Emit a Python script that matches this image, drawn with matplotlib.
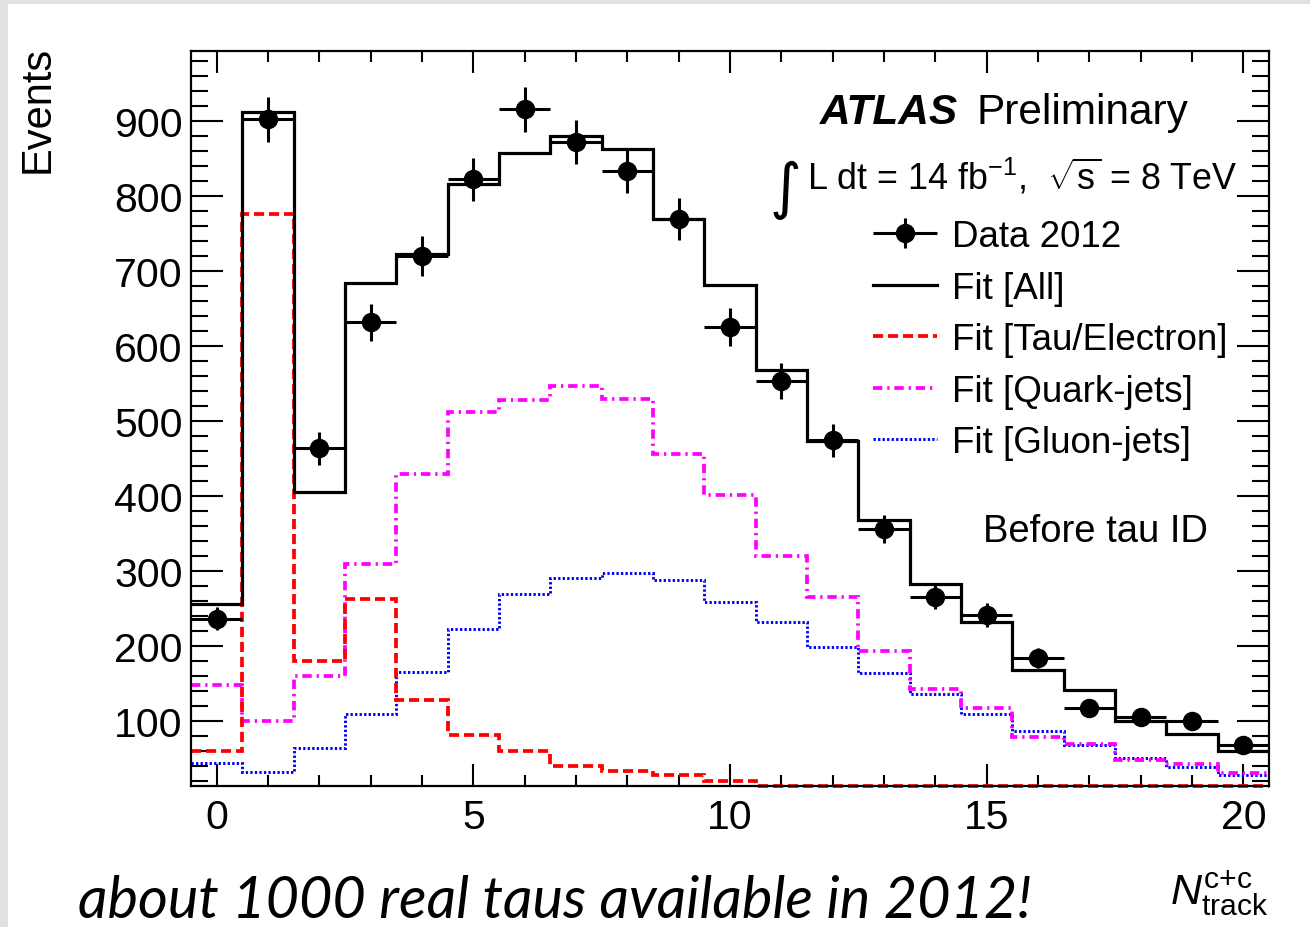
import numpy as np
import matplotlib
matplotlib.use("Agg")
import matplotlib.pyplot as plt
from matplotlib.patches import Rectangle
from matplotlib.lines import Line2D
from matplotlib.container import ErrorbarContainer
from matplotlib.legend_handler import HandlerErrorbar
from matplotlib.ticker import MultipleLocator

plt.rcParams['font.family'] = ['Liberation Sans', 'DejaVu Sans']
plt.rcParams['mathtext.fontset'] = 'custom'
plt.rcParams['mathtext.rm'] = 'Liberation Sans'
plt.rcParams['mathtext.it'] = 'Liberation Sans:italic'
plt.rcParams['mathtext.bf'] = 'Liberation Sans:bold'

# Number of charged + conversion tracks, one bin per integer
n_track = np.arange(0, 21)
bin_edges = np.arange(-0.5, 21.0, 1.0)

data_2012 = [236, 902, 463, 631, 720, 822, 915, 872, 833, 769, 625,
             553, 474, 356, 265, 241, 184, 117, 105, 99, 67]
fit_all = [255, 911, 405, 683, 722, 815, 857, 879, 862, 769, 681,
           567, 473, 367, 282, 232, 168, 141, 100, 82, 59]
fit_tau_electron = [60, 776, 179, 262, 128, 81, 59, 40, 33, 27, 20,
                    11, 9, 7, 5, 4, 3, 2, 2, 1, 1]
fit_quark_jets = [148, 99, 159, 309, 429, 511, 527, 546, 529, 455, 401,
                  320, 265, 193, 142, 117, 78, 69, 48, 42, 30]
fit_gluon_jets = [44, 32, 63, 109, 165, 222, 269, 290, 297, 287, 258,
                  231, 198, 164, 136, 109, 86, 67, 50, 38, 28]

legend_labels = ["Data 2012", "Fit [All]", "Fit [Tau/Electron]",
                 "Fit [Quark-jets]", "Fit [Gluon-jets]"]

Y_LO, Y_HI = 12.9, 992.9

# line styles of the fit components
STY_TAU = dict(color='#ff0000', lw=2.7, linestyle=(0, (2.7, 1.3)))
STY_QUARK = dict(color='#ff00ff', lw=2.7, linestyle=(0, (2.5, 1.3, 0.6, 1.3)))
STY_GLUON = dict(color='#0000ff', lw=2.1, linestyle=(0, (0.8, 0.75)))
STY_ALL = dict(color='black', lw=2.3)

W, H = 1310, 928
fig = plt.figure(figsize=(W / 100, H / 100), dpi=100)
fig.patch.set_facecolor('#e1e1e1')
fig.patches.append(Rectangle((8 / W, 0), 1, (H - 5) / H, transform=fig.transFigure,
                             facecolor='white', edgecolor='none', zorder=-10))

ax = fig.add_axes([191 / W, (H - 787) / H, (1269 - 191) / W, (787 - 52) / H])
ax.set_facecolor('white')

def floor(v):
    # values below the frame are drawn along the lower edge
    return np.clip(np.asarray(v, float), Y_LO, None)

ax.stairs(floor(fit_gluon_jets), bin_edges, baseline=None, zorder=2, clip_on=False, **STY_GLUON)
ax.stairs(floor(fit_quark_jets), bin_edges, baseline=None, zorder=2, clip_on=False, **STY_QUARK)
ax.stairs(floor(fit_tau_electron), bin_edges, baseline=None, zorder=2, clip_on=False, **STY_TAU)
ax.stairs(fit_all, bin_edges, baseline=None, zorder=3, **STY_ALL)

data_err = np.sqrt(np.asarray(data_2012, float))
eb = ax.errorbar(n_track, data_2012, yerr=data_err, xerr=0.5, fmt='o', color='black',
                 markersize=13, elinewidth=2.2, capsize=0, zorder=5)

ax.set_xlim(-0.5, 20.5)
ax.set_ylim(Y_LO, Y_HI)
ax.xaxis.set_major_locator(MultipleLocator(5))
ax.xaxis.set_minor_locator(MultipleLocator(1))
ax.yaxis.set_minor_locator(MultipleLocator(20))
ax.set_yticks([100, 200, 300, 400, 500, 600, 700, 800, 900])
ax.tick_params(axis='both', which='both', direction='in', top=True, right=True,
               width=1.5, color='black')
ax.tick_params(axis='x', which='major', length=16, pad=9, labelsize=29.5)
ax.tick_params(axis='x', which='minor', length=8)
ax.tick_params(axis='y', which='major', length=23, pad=6, labelsize=29.5)
ax.tick_params(axis='y', which='minor', length=12)
for sp in ax.spines.values():
    sp.set_linewidth(1.6)

# Axis titles
fig.text(38 / W, (H - 46) / H, "Events", rotation=90, ha='center', va='top', fontsize=30)
fig.text(1268 / W, (H - 905) / H, r'$N^{\mathrm{c{+}c}}_{\mathrm{track}}$',
         ha='right', va='baseline', fontsize=31)

# Experiment and dataset labels
fig.text(820 / W, (H - 124) / H, "ATLAS", fontsize=30.5, fontweight='bold',
         fontstyle='italic', ha='left', va='baseline')
fig.text(977 / W, (H - 124) / H, "Preliminary", fontsize=30.5, ha='left', va='baseline')
fig.text(770 / W, (H - 207) / H, "\u222b", fontsize=44, ha='left', va='baseline',
         family=['DejaVu Sans'])
fig.text(807 / W, (H - 190) / H, r'L dt = 14 fb$^{\mathrm{-1}}$,  $\sqrt{\mathrm{s}}$ = 8 TeV',
         fontsize=25.8, ha='left', va='baseline')
fig.text(983 / W, (H - 542) / H, "Before tau ID", fontsize=27.5, ha='left', va='baseline')

# Legend
handles = [
    eb,
    Line2D([], [], **STY_ALL),
    Line2D([], [], **STY_TAU),
    Line2D([], [], **STY_QUARK),
    Line2D([], [], **STY_GLUON),
]
ax.legend(handles, legend_labels, loc='upper left',
          bbox_to_anchor=(873 / W, (H - 220) / H), bbox_transform=fig.transFigure,
          frameon=False, fontsize=26.5, handlelength=1.74, handletextpad=0.41,
          labelspacing=0.45, borderpad=0, borderaxespad=0,
          handler_map={ErrorbarContainer: HandlerErrorbar(xerr_size=0.87, yerr_size=0.4)})

# Slide caption
fig.text(78 / W, (H - 918) / H, "about 1000 real taus available in 2012!",
         fontsize=41.5, fontstyle='italic', family=['Lato', 'DejaVu Sans'],
         ha='left', va='baseline')

fig.savefig("out.png", dpi=100, facecolor=fig.get_facecolor())
